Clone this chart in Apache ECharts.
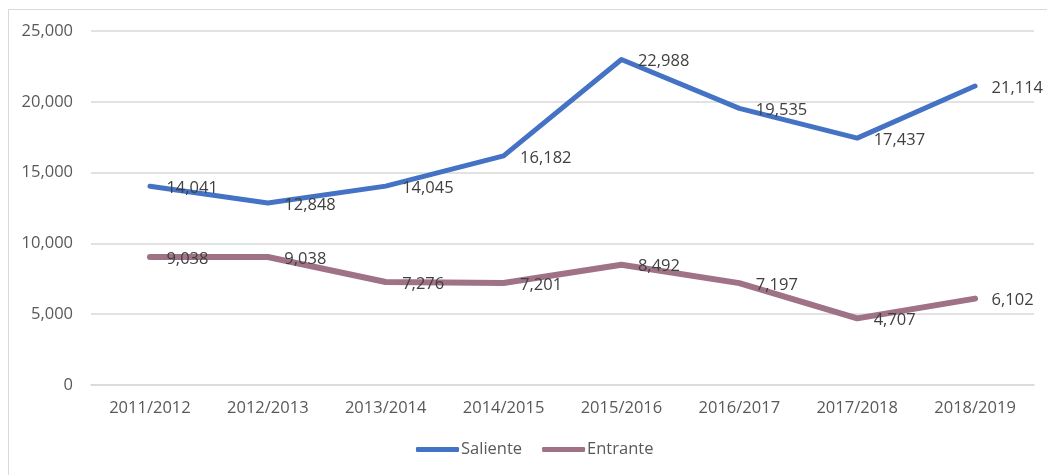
<!DOCTYPE html>
<html>
<head>
<meta charset="utf-8">
<script src="https://cdn.jsdelivr.net/npm/echarts@6/dist/echarts.min.js"></script>
<style>
html,body{margin:0;padding:0;background:#fff;}
#chart{width:1047px;height:475px;}
</style>
</head>
<body>
<div id="chart"></div>
<script>
const categories = ['2011/2012','2012/2013','2013/2014','2014/2015','2015/2016','2016/2017','2017/2018','2018/2019'];
const saliente = [14041, 12848, 14045, 16182, 22988, 19535, 17437, 21114];
const entrante = [9038, 9038, 7276, 7201, 8492, 7197, 4707, 6102];
const yTicks = [0, 5000, 10000, 15000, 20000, 25000];

const fontFam = '"Open Sans", "Liberation Sans", sans-serif';
const fmt = v => v.toLocaleString('en-US');

const chart = echarts.init(document.getElementById('chart'), null, {renderer: 'canvas'});
const labelCfg = {
  show: true,
  position: 'right',
  distance: 16,
  offset: [0, 2],
  color: '#404040',
  fontSize: 16.5,
  fontFamily: fontFam,
  formatter: p => fmt(p.value)
};
chart.setOption({
  animation: false,
  graphic: [{
    type: 'rect',
    shape: {x: 8.5, y: 9.5, width: 1100, height: 500},
    style: {fill: 'none', stroke: '#D9D9D9', lineWidth: 1},
    silent: true
  }],
  grid: {left: 91, right: 13, top: 31, bottom: 90},
  legend: {
    bottom: 12,
    left: 411,
    itemWidth: 43,
    itemHeight: 5,
    itemGap: 20,
    icon: 'roundRect',
    textStyle: {color: '#595959', fontSize: 16.5, fontFamily: fontFam, padding: [0,0,0,-3]},
    data: ['Saliente', 'Entrante']
  },
  xAxis: {
    type: 'category',
    data: categories,
    boundaryGap: true,
    axisLine: {show: true, lineStyle: {color: '#D9D9D9', width: 1.5}},
    axisTick: {show: false},
    axisLabel: {color: '#595959', fontSize: 16.5, fontFamily: fontFam, margin: 15}
  },
  yAxis: {
    type: 'value',
    min: yTicks[0],
    max: yTicks[yTicks.length - 1],
    interval: 5000,
    axisLine: {show: false},
    axisTick: {show: false},
    splitLine: {lineStyle: {color: '#D9D9D9', width: 1.5}},
    axisLabel: {color: '#595959', fontSize: 16.5, fontFamily: fontFam, margin: 18, formatter: v => fmt(v)}
  },
  series: [
    {
      name: 'Saliente',
      type: 'line',
      data: saliente,
      symbol: 'circle',
      symbolSize: 1,
      showSymbol: true,
      itemStyle: {color: '#4472C4'},
      lineStyle: {color: '#4472C4', width: 5, cap: 'round', join: 'round'},
      label: labelCfg,
      z: 3
    },
    {
      name: 'Entrante',
      type: 'line',
      data: entrante,
      symbol: 'circle',
      symbolSize: 1,
      showSymbol: true,
      itemStyle: {color: '#A07286'},
      lineStyle: {color: '#A07286', width: 6, cap: 'round', join: 'round'},
      label: labelCfg,
      z: 2
    }
  ]
});
</script>
</body>
</html>
